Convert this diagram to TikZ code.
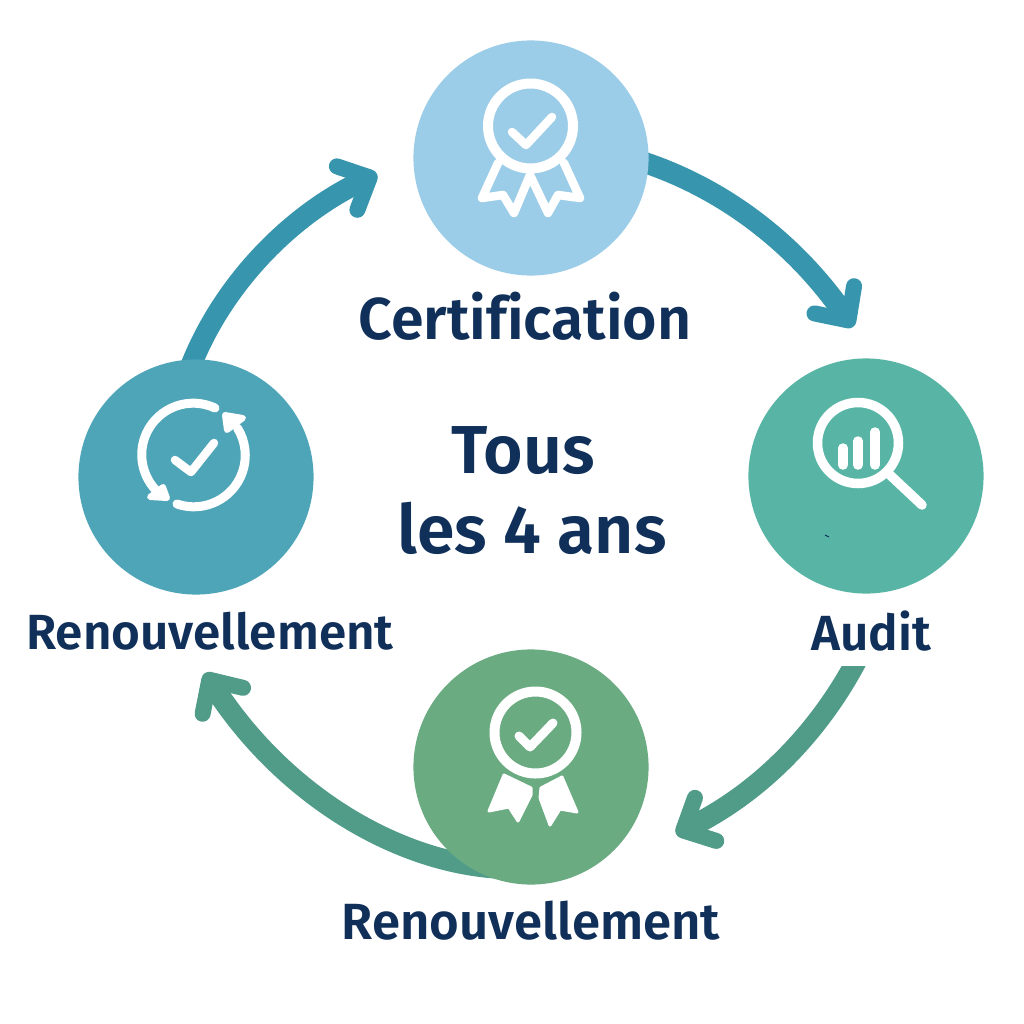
\documentclass[tikz,border=0pt]{standalone}
\usepackage{fontspec}
\setmainfont{Fira Sans}[BoldFont={Fira Sans SemiBold},Ligatures=NoCommon]
\usetikzlibrary{arrows.meta,backgrounds}
\definecolor{navy}{HTML}{10305A}
\definecolor{certblue}{HTML}{9CCDE8}
\definecolor{renewblue}{HTML}{4EA5B8}
\definecolor{auditgreen}{HTML}{58B5A5}
\definecolor{medalgreen}{HTML}{6AAB82}
\definecolor{flowblue}{HTML}{3795AD}
\definecolor{flowgreen}{HTML}{509C88}
\tikzset{
  stepcircle/.style={circle,minimum size=2.35cm,inner sep=0pt},
  flow/.style={line width=.21cm,-{Straight Barb[length=.25cm,width=.48cm,line width=.16cm,round]}},
  icon/.style={draw=white,line width=.09cm,line cap=round,line join=round},
  iconfill/.style={icon,fill=white,line width=.03cm},
  steplabel/.style={text=navy,font=\fontsize{14.05}{16}\selectfont\bfseries,inner sep=0pt},
  certlabelstyle/.style={text=navy,font=\fontsize{16.8}{18}\selectfont\bfseries,inner sep=0pt},
  centerlabel/.style={text=navy,font=\fontsize{19.3}{21}\selectfont\bfseries,inner sep=0pt}
}
\begin{document}
\begin{tikzpicture}[x=.01cm,y=-.01cm]
  \useasboundingbox (0,0) rectangle (1024,1024);
  \node[stepcircle,fill=certblue] (cert) at (531,158) {};
  \node[stepcircle,fill=auditgreen] (audit) at (866,476) {};
  \node[stepcircle,fill=medalgreen] (medal) at (531,767) {};
  \node[stepcircle,fill=renewblue] (renew) at (196,477) {};

  \node[certlabelstyle] (certlabel) at (525,316) {Certification};
  \node[steplabel] (auditlabel) at (871,631) {Audit};
  \node[steplabel,scale=1.03] (medallabel) at (531,921) {Renouvellement};
  \node[steplabel] (renewlabel) at (210,631) {Renouvellement};
  \node[centerlabel] (tous) at (523,451) {Tous};
  \node[centerlabel] (ans) at (532,528) {les 4 ans};

  \coordinate (a1) at (640,161);
  \coordinate (a2) at (853,327);
  \coordinate (b1) at (862,650);
  \coordinate (b2) at (676,834);
  \coordinate (c1) at (495,868);
  \coordinate (c2) at (205,673);
  \coordinate (d1) at (190,368);
  \coordinate (d2) at (377,174);

  \begin{scope}[on background layer]
    \draw[flow,flowblue] (cert.center) -- (a1) .. controls (730,190) and (800,250) .. (a2);
    \begin{scope}
      \clip (600,666) rectangle (1000,900);
      \draw[flow,flowgreen] (b1) .. controls (825,725) and (765,790) .. (b2);
    \end{scope}
    \draw[flow,flowgreen] (medal.center) -- (c1) .. controls (390,860) and (280,790) .. (c2);
    \draw[flow,flowblue] (renew.center) -- (d1) .. controls (222,285) and (290,215) .. (d2);
  \end{scope}

  \draw[icon,line width=.1cm] (530.5,126) circle [radius=42.5];
  \draw[icon,line width=.085cm] (512,132) -- (526,145) -- (552,117);
  \draw[icon,line width=.085cm] (498,163) -- (482,198) -- (503,195) -- (514,213) -- (530,175) -- (548,213) -- (558,195) -- (580,198) -- (564,163);

  \draw[icon,line width=.095cm] (858,443) circle [radius=40.5];
  \draw[icon,line width=.095cm] (843,448) -- (843,465);
  \draw[icon,line width=.095cm] (858,441) -- (858,465);
  \draw[icon,line width=.095cm] (875,432) -- (875,465);
  \draw[icon,line width=.095cm] (890,475) -- (922,505);
  \draw[navy,line width=.01cm] (825,535) -- (829,537);

  \draw[icon,line width=.1cm] (535.5,732.5) circle [radius=41];
  \draw[icon,line width=.09cm] (519,736) -- (530,747) -- (553,723);
  \draw[iconfill] (504,775) -- (531,788) -- (531,795) -- (518,821) -- (509,807) -- (489,811) -- cycle;
  \draw[iconfill] (562,777) -- (577,812) -- (560,809) -- (550,825) -- (540,798) -- (541,788) -- cycle;

  \draw[icon] (215,408) arc [start angle=-65,end angle=-228,radius=51.5];
  \draw[icon] (177,504) arc [start angle=109,end angle=-32,radius=51.5];
  \draw[iconfill,line width=.06cm] (150,497) -- (167,498) -- (163,487) -- cycle;
  \draw[iconfill,line width=.06cm] (225,415) -- (243,418) -- (227,430) -- cycle;
  \draw[icon,line width=.085cm] (175,460) -- (191,472) -- (214,443);
\end{tikzpicture}
\end{document}
